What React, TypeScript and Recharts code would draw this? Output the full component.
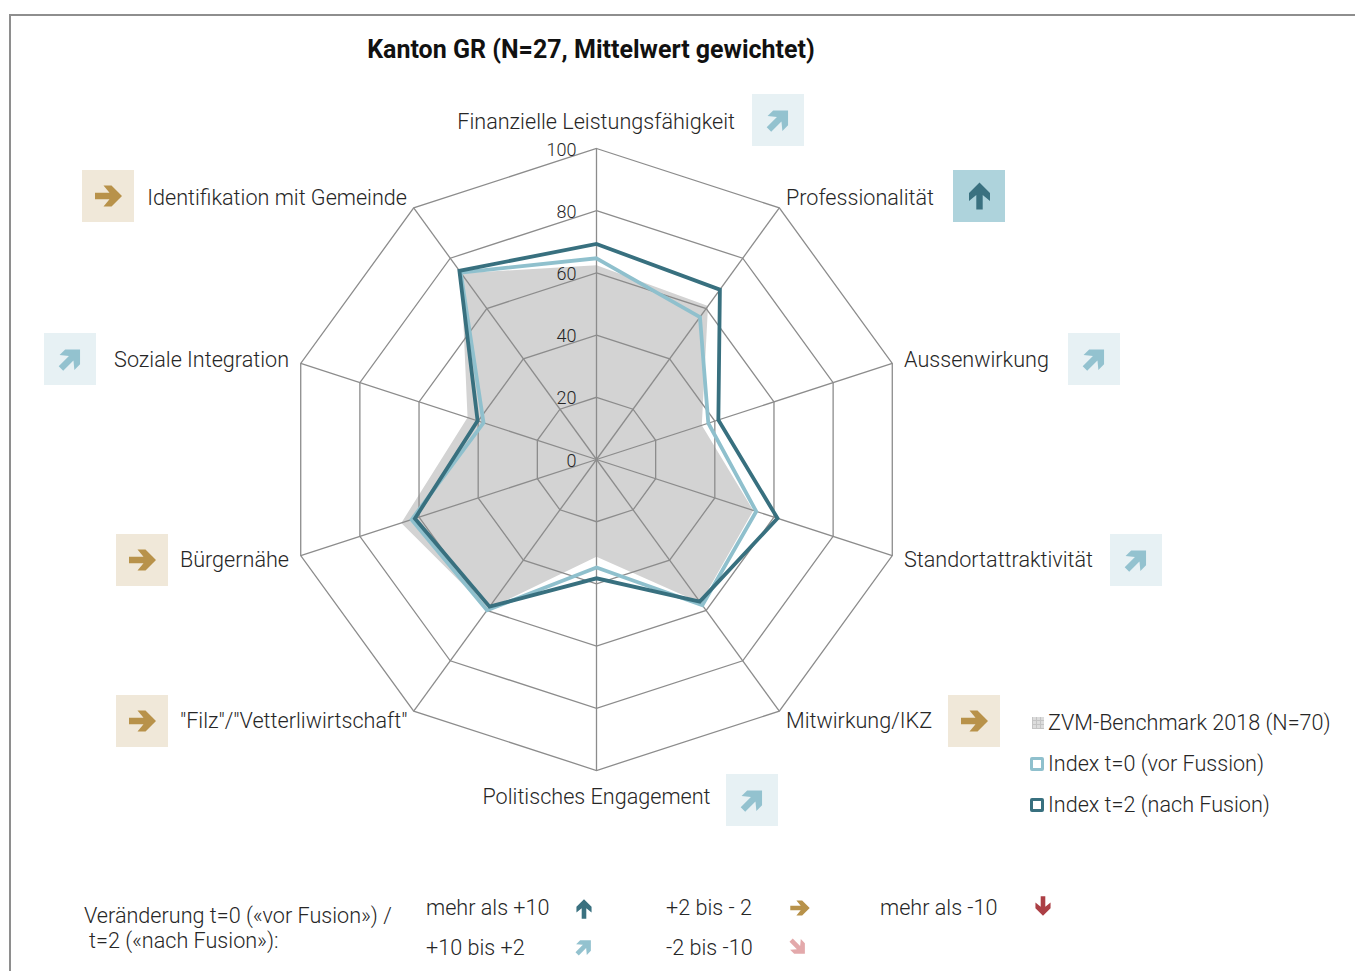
import { RadarChart, PolarGrid, PolarAngleAxis, PolarRadiusAxis, Radar, Legend } from "recharts";

const categories = [
  "Finanzielle Leistungsfähigkeit",
  "Professionalität",
  "Aussenwirkung",
  "Standortattraktivität",
  "Mitwirkung/IKZ",
  "Politisches Engagement",
  "\"Filz\"/\"Vetterliwirtschaft\"",
  "Bürgernähe",
  "Soziale Integration",
  "Identifikation mit Gemeinde",
];
const benchmark = [62.5, 61, 35.6, 53, 57, 31.3, 59.5, 66, 43.6, 74];
const indexT0 = [64.7, 56.6, 37.8, 54, 57.9, 34.7, 59.9, 62.5, 38.2, 74.3];
const indexT2 = [69.3, 67.5, 41.2, 61.2, 56.5, 38.2, 58.5, 61.4, 40.2, 75];
const trends = ["upRight", "up", "upRight", "upRight", "right", "upRight", "right", "right", "upRight", "right"];
const radiusTicks = [0, 20, 40, 60, 80, 100];

const data = categories.map((axis, i) => ({
  axis,
  benchmark: benchmark[i],
  t0: indexT0[i],
  t2: indexT2[i],
}));

const FONT = "Roboto, sans-serif";
const TEXT = "#262626";
const DARK = "#38707f";
const LIGHT = "#8fc0cd";

const ARROWS: Record<string, { rot: number; color: string; bg: string }> = {
  up: { rot: -90, color: "#3a7180", bg: "#aed3dc" },
  upRight: { rot: -45, color: "#93c2cf", bg: "#e7f1f4" },
  right: { rot: 0, color: "#b8924a", bg: "#f0e8d9" },
  downRight: { rot: 45, color: "#e3a9ab", bg: "#fff" },
  down: { rot: 90, color: "#ac3f45", bg: "#fff" },
};

// label and icon box placement around the web
const LABELS = [
  { x: 735, y: 121, anchor: "end", bx: 752, by: 94 },
  { x: 786, y: 197, anchor: "start", bx: 953, by: 170 },
  { x: 904, y: 359, anchor: "start", bx: 1068, by: 333 },
  { x: 904, y: 559, anchor: "start", bx: 1110, by: 534 },
  { x: 786, y: 720, anchor: "start", bx: 948, by: 695 },
  { x: 596.5, y: 796, anchor: "middle", bx: 726, by: 774 },
  { x: 180, y: 720, anchor: "start", bx: 116, by: 695 },
  { x: 289, y: 559, anchor: "end", bx: 116, by: 534 },
  { x: 289, y: 359, anchor: "end", bx: 44, by: 333 },
  { x: 407, y: 197, anchor: "end", bx: 82, by: 170 },
];

function Arrow({ x, y, kind, scale = 1 }: { x: number; y: number; kind: string; scale?: number }) {
  const a = ARROWS[kind];
  return (
    <path
      transform={`translate(${x} ${y}) rotate(${a.rot}) scale(${scale})`}
      d="M-13.5 -3.2 L1 -3.2 L-5 -10.5 L3 -10.5 L13.5 0 L3 10.5 L-5 10.5 L1 3.2 L-13.5 3.2 Z"
      fill={a.color}
    />
  );
}

function CategoryTick({ index, payload }: any) {
  const l = LABELS[index];
  const kind = trends[index];
  return (
    <g>
      <text x={l.x} y={l.y} textAnchor={l.anchor} dominantBaseline="central" fontFamily={FONT} fontWeight={300} fontSize={21.6} fill={TEXT}>
        {payload.value}
      </text>
      <rect x={l.bx} y={l.by} width={52} height={52} fill={ARROWS[kind].bg} />
      <Arrow x={l.bx + 26.5} y={l.by + 26} kind={kind} />
    </g>
  );
}

function RadiusTick({ x, y, payload }: any) {
  return (
    <text x={x - 20} y={y + 0.5} textAnchor="end" dominantBaseline="central" fontFamily={FONT} fontWeight={300} fontSize={18} fill={TEXT}>
      {payload.value}
    </text>
  );
}

function LegendList({ payload }: any) {
  const swatch = (i: number) => {
    if (i === 0) {
      return {
        width: 12,
        height: 12,
        marginLeft: 2,
        marginRight: 4,
        background:
          "repeating-linear-gradient(0deg,#c4c4c4 0 1px,transparent 1px 4px),repeating-linear-gradient(90deg,#c4c4c4 0 1px,transparent 1px 4px),#dcdcdc",
      };
    }
    return {
      width: 8,
      height: 8,
      marginRight: 4,
      border: `3.5px solid ${i === 1 ? LIGHT : DARK}`,
      borderRadius: 2,
    };
  };
  return (
    <div>
      {(payload || []).map((p: any, i: number) => (
        <div key={p.value} style={{ display: "flex", alignItems: "center", height: 41, fontFamily: FONT, fontWeight: 300, fontSize: 21.6, color: TEXT, whiteSpace: "nowrap" }}>
          <span style={swatch(i)} />
          {p.value}
        </div>
      ))}
    </div>
  );
}

function ChangeKey() {
  const t = { fontFamily: FONT, fontWeight: 300, fontSize: 21.6, fill: TEXT, dominantBaseline: "central" } as any;
  return (
    <g>
      <text x={84} y={915} {...t}>Veränderung t=0 («vor Fusion») /</text>
      <text x={89} y={940} {...t}>t=2 («nach Fusion»):</text>
      <text x={426} y={907} {...t}>mehr als +10</text>
      <text x={426} y={947} {...t}>+10 bis +2</text>
      <text x={666} y={907} {...t}>+2 bis - 2</text>
      <text x={666} y={947} {...t}>-2 bis -10</text>
      <text x={880} y={907} {...t}>mehr als -10</text>
      <Arrow x={584} y={909} kind="up" scale={0.72} />
      <Arrow x={584} y={947} kind="upRight" scale={0.72} />
      <Arrow x={800} y={908} kind="right" scale={0.72} />
      <Arrow x={798} y={947} kind="downRight" scale={0.72} />
      <Arrow x={1043} y={906} kind="down" scale={0.72} />
    </g>
  );
}

export default function App() {
  return (
    <div style={{ position: "absolute", left: 0, top: 0, width: 1355, height: 971, overflow: "hidden", background: "#fff" }}>
      <div style={{ position: "absolute", left: 9, top: 14, width: 1400, height: 1000, border: "2px solid #8e8e8e" }} />
      <RadarChart
        width={1355}
        height={971}
        data={data}
        cx={596.5}
        cy={459.5}
        outerRadius={311}
        margin={{ top: 0, right: 0, bottom: 0, left: 0 }}
        style={{ position: "absolute", left: 0, top: 0 }}
      >
        <text x={591} y={49.5} textAnchor="middle" dominantBaseline="central" fontFamily={FONT} fontWeight={700} fontSize={25} fill="#111">
          Kanton GR (N=27, Mittelwert gewichtet)
        </text>
        <Radar name="ZVM-Benchmark 2018 (N=70)" dataKey="benchmark" stroke="none" fill="#d3d3d3" fillOpacity={1} dot={false} isAnimationActive={false} zIndex={10} />
        <PolarGrid gridType="polygon" stroke="#8c8c8c" strokeWidth={1.3} radialLines zIndex={20} />
        <PolarAngleAxis dataKey="axis" tick={CategoryTick} tickLine={false} axisLine={false} />
        <PolarRadiusAxis angle={90} domain={[0, 100]} ticks={radiusTicks as any} tickCount={6} axisLine={false} tickLine={false} tick={RadiusTick} />
        <Radar name="Index t=0 (vor Fussion)" dataKey="t0" stroke={LIGHT} strokeWidth={3.8} fill="none" fillOpacity={0} dot={false} isAnimationActive={false} zIndex={30} />
        <Radar name="Index t=2 (nach Fusion)" dataKey="t2" stroke={DARK} strokeWidth={3.8} fill="none" fillOpacity={0} dot={false} isAnimationActive={false} zIndex={40} />
        <ChangeKey />
        <Legend content={LegendList} itemSorter={null} wrapperStyle={{ left: 1030, top: 702, width: 320, bottom: "auto" }} />
      </RadarChart>
    </div>
  );
}
